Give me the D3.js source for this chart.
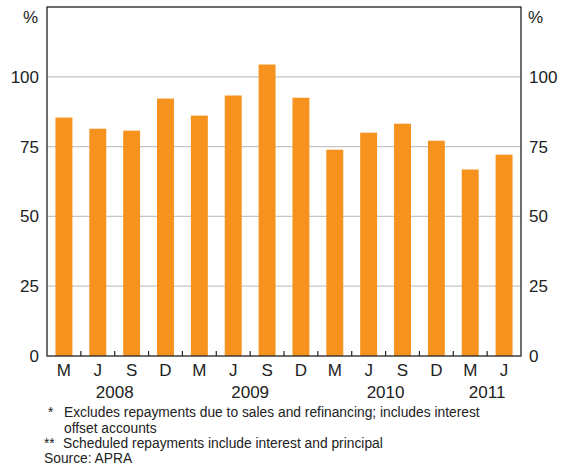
<!DOCTYPE html>
<html><head><meta charset="utf-8">
<script src="https://cdn.jsdelivr.net/npm/d3@7"></script>
<style>body{margin:0;background:#fff;} svg{display:block;font-family:"Liberation Sans",Arial,sans-serif;}</style>
</head><body>
<svg id="c" width="570" height="465"></svg>
<script>
const quarters = ["M","J","S","D","M","J","S","D","M","J","S","D","M","J"];
const values = [85.4, 81.4, 80.7, 92.2, 86.1, 93.3, 104.4, 92.5, 73.9, 80.0, 83.2, 77.1, 66.8, 72.1];
const years = [{label:"2008", start:0, n:4},{label:"2009", start:4, n:4},{label:"2010", start:8, n:4},{label:"2011", start:12, n:2}];
const yTicks = [0, 25, 50, 75, 100];
const footnotes = [
  {mark:"*", text:"Excludes repayments due to sales and refinancing; includes interest"},
  {mark:"", text:"offset accounts"},
  {mark:"**", text:"Scheduled repayments include interest and principal"},
  {mark:"", text:"Source: APRA"}
];

const svg = d3.select("#c");
const L = 47, R = 521, T = 7, B = 356;
const idx = d3.range(quarters.length);
const x = d3.scaleBand().domain(idx).range([L, R]).paddingInner(0.5).paddingOuter(0.25);
const y = d3.scaleLinear().domain([0, 125]).range([B, T]);
const step = (R - L) / quarters.length;

// gridlines
svg.append("g").selectAll("line").data(yTicks.filter(d => d > 0)).join("line")
  .attr("x1", L).attr("x2", R).attr("y1", d => y(d)).attr("y2", d => y(d))
  .attr("stroke", "#c4c4c4").attr("stroke-width", 1.2);

// bars
svg.append("g").selectAll("rect").data(values).join("rect")
  .attr("x", (d, i) => x(i)).attr("width", x.bandwidth())
  .attr("y", d => y(d)).attr("height", d => B - y(d))
  .attr("fill", "#f6921e");

// frame
svg.append("rect").attr("x", L).attr("y", T).attr("width", R - L).attr("height", B - T)
  .attr("fill", "none").attr("stroke", "#222").attr("stroke-width", 1.3);

// quarter boundary ticks (inside, upward)
svg.append("g").selectAll("line").data(d3.range(1, quarters.length)).join("line")
  .attr("x1", i => L + i * step).attr("x2", i => L + i * step)
  .attr("y1", B).attr("y2", B - 5).attr("stroke", "#222").attr("stroke-width", 1.2);

// y axes
const fmt = d3.format("d");
const yl = d3.axisLeft(y).tickValues(yTicks).tickSize(0).tickPadding(8).tickFormat(fmt);
const yr = d3.axisRight(y).tickValues(yTicks).tickSize(0).tickPadding(8).tickFormat(fmt);
const gl = svg.append("g").attr("transform", `translate(${L},0)`).call(yl);
const gr = svg.append("g").attr("transform", `translate(${R},0)`).call(yr);
[gl, gr].forEach(g => {
  g.select(".domain").remove();
  g.selectAll("text").attr("font-size", 17).attr("fill", "#222").attr("font-family", "Liberation Sans, Arial, sans-serif");
});
svg.append("text").attr("x", 38).attr("y", 23).attr("text-anchor", "end").attr("font-size", 17).attr("fill", "#222").text("%");
svg.append("text").attr("x", 528).attr("y", 23).attr("font-size", 17).attr("fill", "#222").text("%");

// x axis labels
const xa = d3.axisBottom(x).tickSize(0).tickPadding(8).tickFormat(i => quarters[i]);
const gx = svg.append("g").attr("transform", `translate(0,${B})`).call(xa);
gx.select(".domain").remove();
gx.selectAll("text").attr("font-size", 17).attr("fill", "#222").attr("font-family", "Liberation Sans, Arial, sans-serif").attr("dy", "0.71em");

// year labels
svg.append("g").selectAll("text").data(years).join("text")
  .attr("x", d => L + (d.start + d.n / 2) * step).attr("y", 398)
  .attr("text-anchor", "middle").attr("font-size", 17).attr("fill", "#222").text(d => d.label);

// footnotes
const fy = [417, 432.5, 448, 463];
const fg = svg.append("g").attr("font-size", 13.8).attr("fill", "#222");
footnotes.forEach((f, i) => {
  if (i === 3) { fg.append("text").attr("x", 44).attr("y", fy[i]).text(f.text); return; }
  if (f.mark === "*") fg.append("text").attr("x", 48).attr("y", fy[i]).text("*");
  if (f.mark === "**") fg.append("text").attr("x", 44).attr("y", fy[i]).text("**");
  fg.append("text").attr("x", f.mark === "**" ? 63 : 64).attr("y", fy[i]).text(f.text);
});
</script>
</body></html>
